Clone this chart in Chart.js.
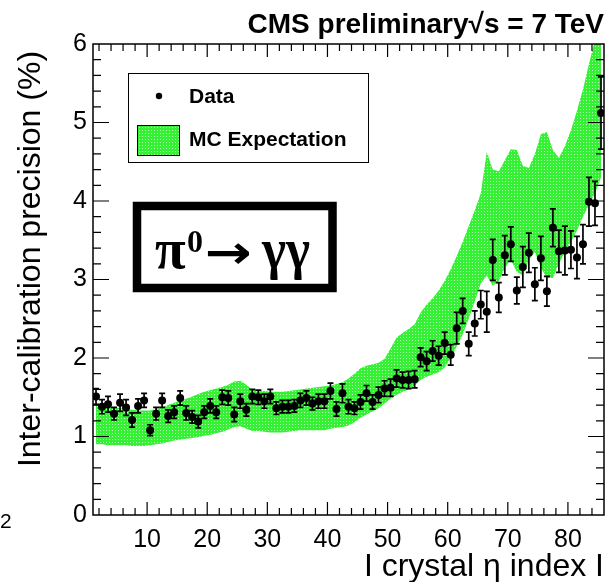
<!DOCTYPE html>
<html>
<head>
<meta charset="utf-8">
<script src="https://cdn.jsdelivr.net/npm/chart.js@4/dist/chart.umd.min.js"></script>
<style>
  html, body { margin: 0; padding: 0; background: #fff; }
  canvas { display: block; }
</style>
</head>
<body>
<canvas id="chart" width="609" height="582"></canvas>
<script>
// crystal eta index (bins 1..85, drawn at bin centre)
const etaIndex = [
  1, 2, 3, 4, 5, 6, 7, 8, 9, 10, 11, 12, 13, 14, 15, 16, 17, 18, 19, 20,
  21, 22, 23, 24, 25, 26, 27, 28, 29, 30, 31, 32, 33, 34, 35, 36, 37, 38, 39, 40,
  41, 42, 43, 44, 45, 46, 47, 48, 49, 50, 51, 52, 53, 54, 55, 56, 57, 58, 59, 60,
  61, 62, 63, 64, 65, 66, 67, 68, 69, 70, 71, 72, 73, 74, 75, 76, 77, 78, 79, 80,
  81, 82, 83, 84, 85
];

// Data: inter-calibration precision (%)
const precision = [
  1.51, 1.38, 1.41, 1.29, 1.43, 1.37, 1.21, 1.39, 1.46, 1.08,
  1.29, 1.46, 1.26, 1.31, 1.49, 1.30, 1.25, 1.19, 1.31, 1.39,
  1.31, 1.50, 1.49, 1.28, 1.45, 1.34, 1.51, 1.50, 1.45, 1.51,
  1.36, 1.38, 1.38, 1.39, 1.46, 1.49, 1.42, 1.45, 1.45, 1.58,
  1.35, 1.55, 1.38, 1.36, 1.44, 1.55, 1.44, 1.53, 1.61, 1.62,
  1.74, 1.72, 1.72, 1.73, 2.01, 1.96, 2.09, 2.03, 2.19, 2.04,
  2.38, 2.60, 2.18, 2.44, 2.68, 2.59, 3.25, 2.77, 3.31, 3.45,
  2.86, 3.16, 3.34, 2.94, 3.27, 2.85, 3.66, 3.36, 3.37, 3.38,
  3.28, 3.45, 3.99, 3.97, 5.12
];

const precisionErr = [
  0.10, 0.09, 0.10, 0.08, 0.11, 0.10, 0.09, 0.09, 0.09, 0.07,
  0.08, 0.09, 0.08, 0.08, 0.09, 0.09, 0.08, 0.08, 0.08, 0.09,
  0.08, 0.09, 0.09, 0.09, 0.09, 0.08, 0.09, 0.09, 0.09, 0.09,
  0.08, 0.08, 0.08, 0.08, 0.09, 0.09, 0.08, 0.09, 0.09, 0.10,
  0.09, 0.12, 0.09, 0.08, 0.09, 0.10, 0.09, 0.10, 0.10, 0.11,
  0.11, 0.10, 0.11, 0.11, 0.12, 0.12, 0.13, 0.12, 0.14, 0.13,
  0.20, 0.16, 0.15, 0.16, 0.18, 0.26, 0.26, 0.19, 0.25, 0.22,
  0.17, 0.26, 0.25, 0.21, 0.28, 0.19, 0.24, 0.27, 0.31, 0.24,
  0.27, 0.25, 0.31, 0.28, 0.46
];

// MC expectation band, upper and lower edge
const mcUpper = [
  1.40, 1.39, 1.38, 1.37, 1.36, 1.35, 1.34, 1.33, 1.33, 1.33,
  1.35, 1.37, 1.40, 1.43, 1.46, 1.48, 1.51, 1.54, 1.57, 1.59,
  1.61, 1.63, 1.66, 1.70, 1.71, 1.66, 1.60, 1.58, 1.58, 1.57,
  1.57, 1.57, 1.58, 1.59, 1.60, 1.61, 1.62, 1.63, 1.64, 1.65,
  1.67, 1.69, 1.74, 1.80, 1.87, 1.90, 1.92, 1.94, 1.99, 2.12,
  2.26, 2.32, 2.37, 2.43, 2.58, 2.68, 2.76, 2.86, 2.98, 3.13,
  3.30, 3.48, 3.68, 3.88, 4.10, 4.62, 4.40, 4.38, 4.52, 4.66,
  4.65, 4.45, 4.42, 4.60, 4.85, 4.88, 4.65, 4.55, 4.70, 4.90,
  5.15, 5.42, 5.75, 6.05, 6.35
];

const mcLower = [
  0.90, 0.90, 0.89, 0.89, 0.89, 0.89, 0.88, 0.88, 0.88, 0.89,
  0.90, 0.91, 0.93, 0.95, 0.96, 0.97, 0.98, 0.99, 1.01, 1.02,
  1.04, 1.06, 1.09, 1.12, 1.13, 1.10, 1.07, 1.07, 1.06, 1.05,
  1.05, 1.05, 1.06, 1.07, 1.08, 1.08, 1.08, 1.08, 1.08, 1.10,
  1.11, 1.12, 1.14, 1.18, 1.24, 1.28, 1.32, 1.36, 1.42, 1.48,
  1.53, 1.57, 1.60, 1.65, 1.72, 1.76, 1.79, 1.82, 1.88, 2.00,
  2.15, 2.30, 2.50, 2.72, 2.95, 3.05, 2.92, 2.98, 3.15, 3.25,
  3.10, 3.05, 3.25, 3.35, 3.15, 3.02, 3.02, 3.20, 3.35, 3.48,
  3.62, 3.80, 3.95, 4.10, 4.30
];

const xTickLabels = [10, 20, 30, 40, 50, 60, 70, 80];
const yTickLabels = [0, 1, 2, 3, 4, 5, 6];

const SANS = '"Liberation Sans", Arial, sans-serif';
const SERIF = '"Liberation Serif", "Times New Roman", serif';

// ROOT style dotted green fill
function greenPattern() {
  const c = document.createElement('canvas');
  c.width = 3; c.height = 3;
  const g = c.getContext('2d');
  g.fillStyle = '#36f036';
  g.fillRect(0, 0, 3, 3);
  g.fillStyle = '#b4ffb4';
  g.fillRect(1, 1, 1, 1);
  return g.createPattern(c, 'repeat');
}

const fillGreen = greenPattern();
const binCentre = n => n + 0.5;

const rootStyle = {
  id: 'rootStyle',
  afterDatasetsDraw(chart) {
    const { ctx, chartArea: a, scales: { x, y } } = chart;
    ctx.save();
    ctx.beginPath();
    ctx.rect(a.left, a.top, a.right - a.left, a.bottom - a.top);
    ctx.clip();
    ctx.strokeStyle = '#000';
    ctx.lineWidth = 1.7;
    etaIndex.forEach((n, i) => {
      const px = x.getPixelForValue(binCentre(n));
      const hi = y.getPixelForValue(precision[i] + precisionErr[i]);
      const lo = y.getPixelForValue(precision[i] - precisionErr[i]);
      ctx.beginPath();
      ctx.moveTo(px, hi); ctx.lineTo(px, lo);
      ctx.moveTo(px - 3, hi); ctx.lineTo(px + 3, hi);
      ctx.moveTo(px - 3, lo); ctx.lineTo(px + 3, lo);
      ctx.stroke();
    });
    ctx.restore();
  },
  afterDraw(chart) {
    const { ctx, chartArea: a, scales: { x, y } } = chart;
    ctx.save();

    // frame
    ctx.strokeStyle = '#000';
    ctx.lineWidth = 1.5;
    ctx.strokeRect(a.left, a.top, a.right - a.left, a.bottom - a.top);

    // inward ticks on all four sides
    ctx.lineWidth = 1.2;
    ctx.beginPath();
    for (let v = 2; v < 86; v += 2) {
      const px = x.getPixelForValue(v);
      const len = v % 10 === 0 ? 13 : 7;
      ctx.moveTo(px, a.bottom); ctx.lineTo(px, a.bottom - len);
      ctx.moveTo(px, a.top); ctx.lineTo(px, a.top + len);
    }
    for (let k = 1; k < 30; k++) {
      const py = y.getPixelForValue(k / 5);
      const len = k % 5 === 0 ? 16 : 8;
      ctx.moveTo(a.left, py); ctx.lineTo(a.left + len, py);
      ctx.moveTo(a.right, py); ctx.lineTo(a.right - len, py);
    }
    ctx.stroke();

    ctx.fillStyle = '#000';

    // header
    ctx.font = 'bold 28px ' + SANS;
    ctx.textAlign = 'right';
    ctx.textBaseline = 'alphabetic';
    ctx.fillText('CMS preliminary\u221As = 7 TeV', 604, 33);

    // axis titles
    ctx.font = '32px ' + SANS;
    ctx.fillText('I crystal \u03B7 index I', 604, 576);
    ctx.save();
    ctx.translate(40, 259);
    ctx.rotate(-Math.PI / 2);
    ctx.textAlign = 'center';
    ctx.fillText('Inter-calibration precision (%)', 0, 0);
    ctx.restore();

    // stray label at the left edge
    ctx.textAlign = 'left';
    ctx.font = '21px ' + SANS;
    ctx.fillText('2', 0, 528);

    // legend
    ctx.lineWidth = 1;
    ctx.strokeRect(128.5, 73.5, 240, 89);
    ctx.beginPath();
    ctx.arc(159, 96, 3.2, 0, Math.PI * 2);
    ctx.fill();
    ctx.fillStyle = fillGreen;
    ctx.fillRect(137, 125, 43, 31);
    ctx.strokeRect(137.5, 125.5, 42, 30);
    ctx.fillStyle = '#000';
    ctx.font = 'bold 21px ' + SANS;
    ctx.textBaseline = 'middle';
    ctx.fillText('Data', 189, 97);
    ctx.fillText('MC Expectation', 189, 140);

    // process label box
    ctx.lineWidth = 8.5;
    ctx.strokeRect(137, 206, 195.5, 82);
    ctx.textBaseline = 'alphabetic';
    ctx.font = 'bold 56px ' + SERIF;
    ctx.fillText('\u03C0', 155, 268);
    ctx.font = 'bold 32px ' + SERIF;
    ctx.fillText('0', 187, 252);
    ctx.font = 'bold 46px "DejaVu Sans", ' + SERIF;
    ctx.save();
    ctx.translate(205, 268);
    ctx.scale(47 / ctx.measureText('\u2192').width, 1);
    ctx.fillText('\u2192', 0, 0);
    ctx.restore();
    ctx.font = 'bold 56px ' + SERIF;
    ctx.save();
    ctx.translate(262, 268);
    ctx.scale(48 / ctx.measureText('\u03B3\u03B3').width, 1);
    ctx.fillText('\u03B3\u03B3', 0, 0);
    ctx.restore();

    ctx.restore();
  }
};

new Chart(document.getElementById('chart'), {
  type: 'scatter',
  data: {
    datasets: [
      {
        label: 'MC Expectation',
        data: etaIndex.map((n, i) => ({ x: binCentre(n), y: mcUpper[i] })),
        showLine: true,
        borderWidth: 0,
        pointRadius: 0,
        backgroundColor: fillGreen,
        fill: '+1',
        order: 2
      },
      {
        label: 'MC lower',
        data: etaIndex.map((n, i) => ({ x: binCentre(n), y: mcLower[i] })),
        showLine: true,
        borderWidth: 0,
        pointRadius: 0,
        fill: false,
        order: 2
      },
      {
        label: 'Data',
        data: etaIndex.map((n, i) => ({ x: binCentre(n), y: precision[i] })),
        pointRadius: 4,
        pointBackgroundColor: '#000',
        pointBorderWidth: 0,
        order: 0
      }
    ]
  },
  options: {
    responsive: false,
    animation: false,
    devicePixelRatio: 1,
    layout: { padding: { top: 44, right: 5, left: 0, bottom: 0 } },
    plugins: { legend: { display: false }, tooltip: { enabled: false } },
    scales: {
      x: {
        type: 'linear',
        min: 1,
        max: 86,
        afterFit: s => { s.height = 67; },
        afterBuildTicks: s => { s.ticks = xTickLabels.map(v => ({ value: v })); },
        grid: { display: false, drawTicks: false },
        border: { display: false },
        ticks: { padding: 10, color: '#000', font: { family: SANS, size: 25 }, maxRotation: 0, autoSkip: false }
      },
      y: {
        type: 'linear',
        min: 0,
        max: 6,
        afterFit: s => { s.width = 93; },
        afterBuildTicks: s => { s.ticks = yTickLabels.map(v => ({ value: v })); },
        grid: { display: false, drawTicks: false },
        border: { display: false },
        ticks: { padding: 6, color: '#000', font: { family: SANS, size: 25 } }
      }
    }
  },
  plugins: [rootStyle]
});
</script>
</body>
</html>
